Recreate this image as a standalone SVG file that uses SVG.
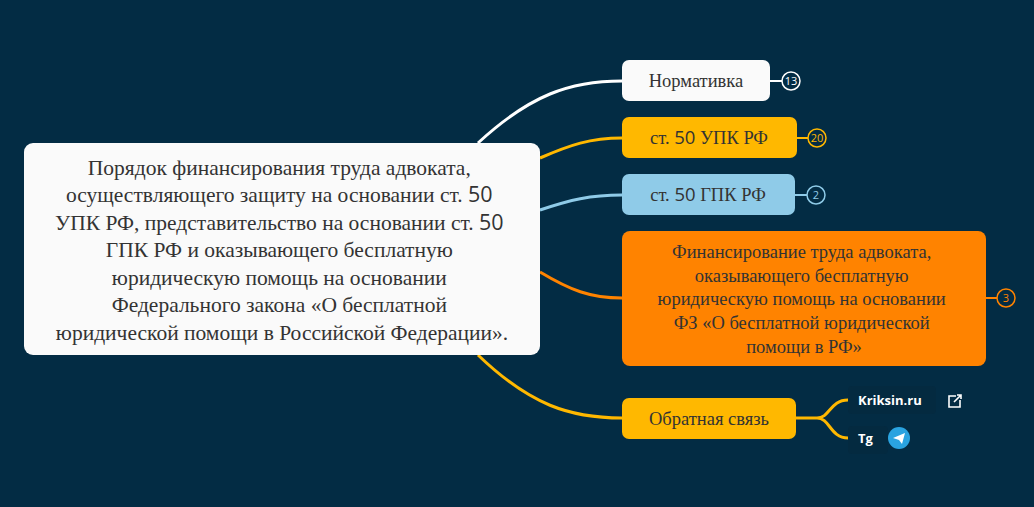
<svg xmlns="http://www.w3.org/2000/svg" width="1034" height="507" viewBox="0 0 1034 507">
<style>
.t{font-family:'Liberation Serif','Times New Roman',serif;fill:#333;text-anchor:middle}
.s{font-family:'Open Sans','Liberation Sans',sans-serif}
.c{fill:none;stroke-width:3}
.b{font-family:'Open Sans','Liberation Sans',sans-serif;font-size:11px;text-anchor:middle;fill:none}
.l{font-family:'Open Sans','Liberation Sans',sans-serif;font-weight:bold;font-size:13px;fill:#fff}
</style>
<rect width="1034" height="507" fill="#032c44"/>
<g id="connectors">
<path class="c" stroke="#fff" d="M478 143 C530 95 570 81 622 81"/>
<path class="c" stroke="#ffb800" d="M540 158 C570 145 590 138 622 138"/>
<path class="c" stroke="#8fcbe8" d="M540 210 C570 200 590 195 622 195"/>
<path class="c" stroke="#ff8300" d="M540 272 C570 290 590 298 622 298"/>
<path class="c" stroke="#ffb800" d="M478 355 C530 405 570 418 622 418"/>
<path class="c" stroke="#ffb800" d="M796 418 H817 C830 418 830 400 848 400 M817 418 C830 418 830 438 848 438" stroke-width="2"/>
<path stroke="#fff" stroke-width="2" d="M770 81 H782"/>
<path stroke="#ffb800" stroke-width="2" d="M797 138 H808"/>
<path stroke="#8fcbe8" stroke-width="2" d="M795 195 H807"/>
<path stroke="#ff8300" stroke-width="2" d="M986 298 H997"/>
</g>
<g id="main">
<rect x="24" y="143" width="516" height="212" rx="9" fill="#fafafa"/>
<text class="t" font-size="21.5" x="282">
<tspan x="282" y="175">Порядок финансирования труда адвоката,</tspan>
<tspan x="282" y="202">осуществляющего защиту на основании ст. <tspan class="s">50</tspan></tspan>
<tspan x="282" y="230">УПК РФ, представительство на основании ст. <tspan class="s">50</tspan></tspan>
<tspan x="282" y="257">ГПК РФ и оказывающего бесплатную</tspan>
<tspan x="282" y="285">юридическую помощь на основании</tspan>
<tspan x="282" y="312">Федерального закона «О бесплатной</tspan>
<tspan x="282" y="340">юридической помощи в Российской Федерации».</tspan>
</text>
</g>
<g id="n1">
<rect x="622" y="60" width="148" height="41" rx="7" fill="#fafafa"/>
<text class="t" font-size="18.5" x="696" y="87">Нормативка</text>
<circle cx="791" cy="81" r="9" fill="none" stroke="#fff" stroke-width="1.5"/>
<text class="b" x="791" y="85" style="fill:#fff">13</text>
</g>
<g id="n2">
<rect x="622" y="117" width="175" height="41" rx="7" fill="#ffb800"/>
<text class="t" font-size="18.5" x="709" y="144">ст. <tspan class="s">50</tspan> УПК РФ</text>
<circle cx="817" cy="138" r="9" fill="none" stroke="#ffb800" stroke-width="1.5"/>
<text class="b" x="817" y="142" style="fill:#ffb800">20</text>
</g>
<g id="n3">
<rect x="622" y="174" width="173" height="41" rx="7" fill="#8fcbe8"/>
<text class="t" font-size="18.5" x="708" y="201">ст. <tspan class="s">50</tspan> ГПК РФ</text>
<circle cx="816" cy="195" r="9" fill="none" stroke="#8fcbe8" stroke-width="1.5"/>
<text class="b" x="816" y="199" style="fill:#8fcbe8">2</text>
</g>
<g id="n4">
<rect x="622" y="231" width="364" height="135" rx="8" fill="#ff8300"/>
<text class="t" font-size="18.5">
<tspan x="804" y="258">Финансирование труда адвоката,</tspan>
<tspan x="804" y="282">оказывающего бесплатную</tspan>
<tspan x="804" y="305">юридическую помощь на основании</tspan>
<tspan x="804" y="329">ФЗ «О бесплатной юридической</tspan>
<tspan x="804" y="353">помощи в РФ»</tspan>
</text>
<circle cx="1006" cy="298" r="9" fill="none" stroke="#ff8300" stroke-width="1.5"/>
<text class="b" x="1006" y="302" style="fill:#ff8300">3</text>
</g>
<g id="n5">
<rect x="622" y="398" width="174" height="41" rx="7" fill="#ffb800"/>
<text class="t" font-size="18.5" x="709" y="425">Обратная связь</text>
</g>
<g id="n6">
<rect x="848" y="386" width="88" height="28" rx="4" fill="#042a40"/>
<text class="l" x="858" y="405">Kriksin.ru</text>
<g fill="none" stroke="#fff" stroke-width="1.6">
<path d="M956 396 H949 V407 H960 V400"/>
<path d="M954 402 L961 395 M957 395 H961 V399"/>
</g>
</g>
<g id="n7">
<rect x="848" y="426" width="40" height="28" rx="4" fill="#042a40"/>
<text class="l" x="858" y="443">Tg</text>
<circle cx="899" cy="438" r="11" fill="#2aa3e0"/>
<path d="M893 438 L905 433 L902 444 L899 440 Z" fill="#fff"/>
</g>
</svg>
